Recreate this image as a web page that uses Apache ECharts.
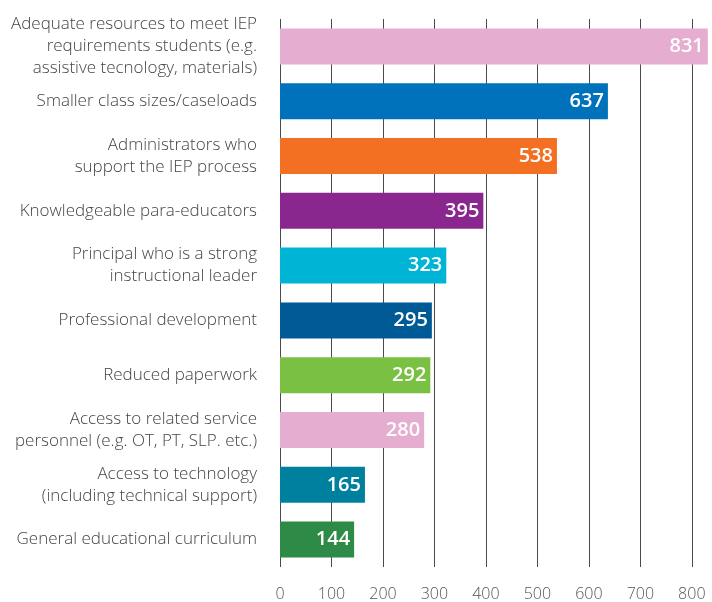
<!DOCTYPE html>
<html>
<head>
<meta charset="utf-8">
<script src="https://cdn.jsdelivr.net/npm/echarts@6/dist/echarts.min.js"></script>
<style>
  html, body { margin: 0; padding: 0; background: #fff; overflow: hidden; }
  /* the original chart is cropped on the right, so the canvas runs past the window */
  #chart { width: 760px; height: 602px; }
</style>
</head>
<body>
<div id="chart"></div>
<script>
// categories, top to bottom
const categories = [
  'Adequate resources to meet IEP\nrequirements students (e.g.\nassistive tecnology, materials)',
  'Smaller class sizes/caseloads',
  'Administrators who\nsupport the IEP process',
  'Knowledgeable para-educators',
  'Principal who is a strong\ninstructional leader',
  'Professional development',
  'Reduced paperwork',
  'Access to related service\npersonnel (e.g. OT, PT, SLP. etc.)',
  'Access to technology\n(including technical support)',
  'General educational curriculum'
]
const counts = [831, 637, 538, 395, 323, 295, 292, 280, 165, 144]
const barColors = [
  '#E5ADCF', '#0072BC', '#F36F21', '#8A278E', '#00B4D5',
  '#005A96', '#7AC143', '#E5ADCF', '#00809F', '#2E8B47'
]

const chart = echarts.init(document.getElementById('chart'))

chart.setOption({
  animation: false,
  textStyle: { fontFamily: 'Open Sans' },
  grid: {
    left: 280,
    right: 13,
    top: 19,
    bottom: 32,
    containLabel: false
  },
  xAxis: {
    type: 'value',
    min: 0,
    max: 900,
    interval: 100,
    axisLine: { show: false },
    axisTick: { show: false },
    axisLabel: {
      color: '#555',
      fontSize: 16,
      fontWeight: 300,
      margin: 19
    },
    splitLine: {
      show: true,
      lineStyle: { color: '#4a4a4a', width: 1 }
    }
  },
  yAxis: {
    type: 'category',
    inverse: true,
    data: categories,
    axisLine: { show: false },
    axisTick: { show: false },
    axisLabel: {
      color: '#444',
      fontSize: 17,
      fontWeight: 300,
      lineHeight: 22,
      margin: 23,
      align: 'right',
      padding: [9, 0, 0, 0]
    }
  },
  series: [{
    type: 'bar',
    data: counts.map((v, i) => ({ value: v, itemStyle: { color: barColors[i] } })),
    barWidth: 36,
    label: {
      show: true,
      position: 'insideRight',
      distance: 4,
      color: '#fff',
      fontSize: 20,
      fontWeight: 600
    }
  }]
})
</script>
</body>
</html>
